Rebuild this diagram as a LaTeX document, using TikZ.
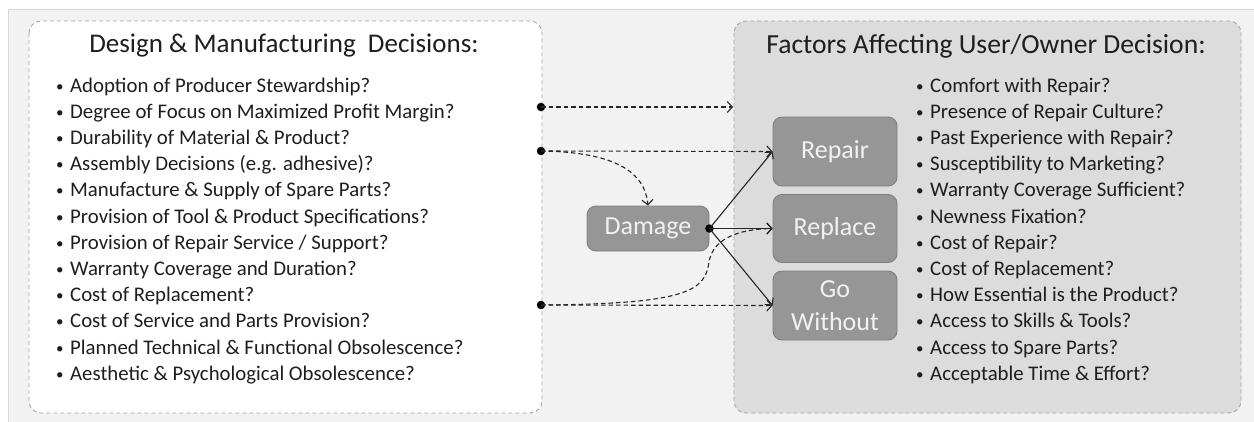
\documentclass[tikz,border=0pt]{standalone}
\usepackage{fontspec}
\setmainfont{Carlito}
\usetikzlibrary{arrows.meta}
\definecolor{bgc}{HTML}{F2F2F2}
\definecolor{bgline}{HTML}{D9D9D9}
\definecolor{boxline}{HTML}{A6A6A6}
\definecolor{rightfill}{HTML}{DCDCDC}
\definecolor{nodefill}{HTML}{969696}
\definecolor{nodeline}{HTML}{7F7F7F}
\definecolor{txt}{HTML}{1E1E1E}
\tikzset{
  panel/.style={draw=boxline, dashed, dash pattern=on 4pt off 3pt, rounded corners=12pt, line width=0.9pt},
  choice/.style={draw=nodeline, fill=nodefill, rounded corners=9pt, line width=0.9pt, text=bgc,
     font=\fontsize{26}{27}\selectfont, align=center, inner sep=0pt},
  ttl/.style={font=\fontsize{27}{30}\selectfont, text=txt, inner sep=0pt},
  item/.style={font=\fontsize{20.8}{24}\selectfont, text=txt, inner sep=0pt, anchor=base west},
  conn/.style={line width=1.1pt, draw=black!85, -{Straight Barb[length=5pt,width=11pt]}},
  dconn/.style={conn, dashed, dash pattern=on 4.5pt off 3pt},
  dot/.style={circle, fill=black, inner sep=0pt, minimum size=8.5pt}
}
\newcommand{\bitem}[1]{\makebox[14pt][l]{\raisebox{1pt}{\fontsize{15}{15}\selectfont•}}#1}
\begin{document}
\begin{tikzpicture}[x=1pt,y=-1pt]
\useasboundingbox (0,0) rectangle (1254,421);
\fill[white] (0,0) rectangle (1254,421);
\draw[fill=bgc, draw=bgline, line width=1pt] (8,9) rectangle (1260,430);
\draw[panel, fill=white] (29,21) rectangle (542,413);
\draw[panel, fill=rightfill] (734,21) rectangle (1241,413);

\node[ttl] (t1) at (284,46) {Design \& Manufacturing\ \ Decisions:};
\node[ttl, font=\fontsize{27.6}{30}\selectfont] (t2) at (986,46) {Factors Affecting User/Owner Decision:};

\foreach \t [count=\i from 0] in {
  Adoption of Producer Stewardship?,
  Degree of Focus on Maximized Profit Margin?,
  Durability of Material \& Product?,
  Assembly Decisions (e.g. adhesive)?,
  Manufacture \& Supply of Spare Parts?,
  Provision of Tool \& Product Specifications?,
  Provision of Repair Service / Support?,
  Warranty Coverage and Duration?,
  Cost of Replacement?,
  Cost of Service and Parts Provision?,
  Planned Technical \& Functional Obsolescence?,
  Aesthetic \& Psychological Obsolescence?}
  \node[item] (l\i) at (56,{92+26.2*\i}) {\bitem{\t}};

\foreach \t [count=\i from 0] in {
  Comfort with Repair?,
  Presence of Repair Culture?,
  Past Experience with Repair?,
  Susceptibility to Marketing?,
  Warranty Coverage Sufficient?,
  Newness Fixation?,
  Cost of Repair?,
  Cost of Replacement?,
  How Essential is the Product?,
  Access to Skills \& Tools?,
  Access to Spare Parts?,
  Acceptable Time \& Effort?}
  \node[item] (r\i) at (916,{92+26.2*\i}) {\bitem{\t}};

\node[choice, minimum width=122pt, minimum height=45pt] (dmg) at (648,228.5) {\raisebox{-2.5pt}{Damage}};
\node[choice, minimum width=124pt, minimum height=69pt] (rep) at (835,151.5) {Repair};
\node[choice, minimum width=124pt, minimum height=68pt] (rpl) at (835,228.5) {Replace};
\node[choice, minimum width=124pt, minimum height=69pt, font=\fontsize{26}{33}\selectfont] (gow) at (835,305.5) {Go\\Without};

\node[dot] (d1) at (541,107) {};
\node[dot] (d2) at (541,151) {};
\node[dot] (d3) at (541,305) {};
\node[dot] (d4) at (dmg.east) {};
\coordinate (e1) at (733,107);

\draw[dconn] (d1.center) -- (e1);
\draw[dconn] (d2.center) -- (rep.west);
\draw[dconn] (d2.center) .. controls (615,152) and (645,172) .. (dmg.north);
\draw[dconn] (d3.center) -- (gow.west);
\draw[dconn] (d3.center) .. controls (690,304) and (705,290) .. (709,262) .. controls (713,238) and (740,229) .. (rpl.west);
\draw[conn] (d4.center) -- (rep.west);
\draw[conn] (d4.center) -- (rpl.west);
\draw[conn] (d4.center) -- (gow.west);
\end{tikzpicture}
\end{document}
